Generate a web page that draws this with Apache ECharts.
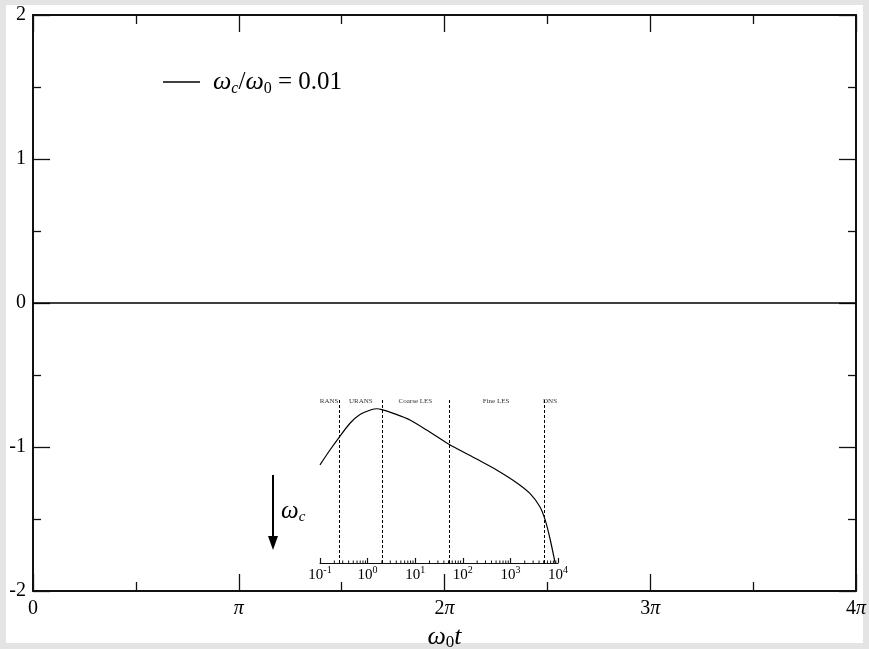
<!DOCTYPE html>
<html><head><meta charset="utf-8">
<script src="https://cdn.jsdelivr.net/npm/echarts@6/dist/echarts.min.js"></script>
<style>
html,body{margin:0;padding:0;background:#e4e4e4;overflow:hidden;}
#page{position:absolute;left:6px;top:5px;width:857px;height:638px;background:#fff;}
#chart{position:absolute;left:0;top:0;width:869px;height:649px;}
</style></head><body>
<div id="page"></div><div id="chart"></div>
<script>
// ---- main plot data ----
const mainX = [0, 1.5708, 3.1416, 4.7124, 6.2832, 7.854, 9.4248, 10.9956, 12.5664];
const mainY = [0, 0, 0, 0, 0, 0, 0, 0, 0];
const seriesName = 'ωc/ω0 = 0.01';
const xTickLabels = ['0', 'π', '2π', '3π', '4π'];
const yTickLabels = ['-2', '-1', '0', '1', '2'];

// ---- inset (spectrum) data ----
const insetX = [0.1, 0.162, 0.257, 0.427, 0.692, 1.23, 1.55, 2.0, 3.47, 7.76, 17.4, 50.1, 195, 513, 1349, 2570, 4169, 5370, 6761, 8710];
const insetY = [0.595, 0.685, 0.765, 0.847, 0.90, 0.93, 0.935, 0.93, 0.907, 0.867, 0.806, 0.721, 0.630, 0.564, 0.487, 0.422, 0.341, 0.261, 0.15, 0.0];
const insetBounds = [0.25, 2.0, 51, 5100];
const regionNames = ['RANS', 'URANS', 'Coarse LES', 'Fine LES', 'DNS'];
const regionCenters = [0.155, 0.72, 10.1, 500, 6800];
const regionLabelLevel = 0.983;
const insetMultipliers = [2, 3, 4, 5, 6, 7, 8, 9];
const insetDecadeBases = [0.1, 1, 10, 100, 1000];

const serif = 'Liberation Serif';
const ink = '#111';

const minorVals = [];
insetDecadeBases.forEach(b => insetMultipliers.forEach(m => minorVals.push([m * b, 0])));

function xLabel(v) {
  const n = Math.round(v / Math.PI);
  const s = xTickLabels[n];
  if (s === undefined) return '';
  return s.replace('π', '{p|π}');
}
function yLabel(v) {
  const n = Math.round(v) + 2;
  return yTickLabels[n] !== undefined ? yTickLabels[n] : '';
}

const mainAxisBase = {
  axisLine: {show: true, onZero: false, lineStyle: {color: ink, width: 2}},
  axisTick: {show: true, inside: true, length: 17, lineStyle: {color: ink, width: 1.3}},
  minorTick: {show: true, splitNumber: 2, length: 8, lineStyle: {color: ink, width: 1.3}},
  splitLine: {show: false},
  minorSplitLine: {show: false}
};

const chart = echarts.init(document.getElementById('chart'), null, {renderer: 'canvas'});
const option = {
  animation: false,
  backgroundColor: 'transparent',
  textStyle: {fontFamily: serif, color: '#000'},
  grid: [
    {left: 33, right: 13, top: 15, bottom: 58, outerBoundsMode: 'none'},
    {left: 320, width: 238, top: 398, height: 165, outerBoundsMode: 'none'}
  ],
  legend: {
    show: true, data: [seriesName], left: 163, top: 69, padding: 0,
    icon: 'rect', itemWidth: 37, itemHeight: 1.5, itemGap: 0,
    selectedMode: false,
    formatter: () => '{w|ω}{s|c}{n|/}{w|ω}{z|0}{n| = 0.01}',
    textStyle: {
      color: '#000', fontFamily: serif, fontSize: 25, padding: [0, 0, 0, 8],
      rich: {
        w: {fontFamily: serif, fontStyle: 'italic', fontSize: 26, lineHeight: 30, color: '#000'},
        n: {fontFamily: serif, fontSize: 25, lineHeight: 30, color: '#000'},
        s: {fontFamily: serif, fontStyle: 'italic', fontSize: 16, lineHeight: 16, verticalAlign: 'bottom', color: '#000'},
        z: {fontFamily: serif, fontSize: 16, lineHeight: 16, verticalAlign: 'bottom', color: '#000'}
      }
    }
  },
  xAxis: [
    Object.assign({}, mainAxisBase, {
      gridIndex: 0, type: 'value', min: 0, max: 4 * Math.PI, interval: Math.PI, position: 'bottom',
      axisLabel: {show: true, margin: 8, fontSize: 20, color: '#000', fontFamily: serif, formatter: xLabel,
        rich: {p: {fontStyle: 'italic', fontSize: 20, fontFamily: serif, color: '#000'}}},
      minorTick: {show: true, splitNumber: 2, length: 9, lineStyle: {color: ink, width: 1.3}},
      name: '{w|ω}{s|0}{w|t}', nameLocation: 'middle', nameGap: 29,
      nameTextStyle: {
        rich: {
          w: {fontFamily: serif, fontStyle: 'italic', fontSize: 26, lineHeight: 28, color: '#000'},
          s: {fontFamily: serif, fontSize: 17, lineHeight: 17, verticalAlign: 'bottom', color: '#000'}
        }
      }
    }),
    Object.assign({}, mainAxisBase, {
      gridIndex: 0, type: 'value', min: 0, max: 4 * Math.PI, interval: Math.PI, position: 'top',
      axisLabel: {show: false},
      minorTick: {show: true, splitNumber: 2, length: 9, lineStyle: {color: ink, width: 1.3}}
    }),
    {
      gridIndex: 1, type: 'log', logBase: 10, min: 0.1, max: 10000, splitNumber: 5, position: 'bottom',
      axisLine: {show: true, onZero: false, lineStyle: {color: ink, width: 1.2}},
      axisTick: {show: true, inside: true, length: 5, lineStyle: {color: ink, width: 1.2}},
      splitLine: {show: false},
      axisLabel: {
        show: true, margin: 2, color: '#000', fontFamily: serif, fontSize: 15,
        formatter: v => '{b|10}{s|' + Math.round(Math.log10(v)) + '}',
        rich: {
          b: {fontFamily: serif, fontSize: 15, lineHeight: 20, color: '#000'},
          s: {fontFamily: serif, fontSize: 10, lineHeight: 8, verticalAlign: 'top', color: '#000'}
        }
      }
    }
  ],
  yAxis: [
    Object.assign({}, mainAxisBase, {
      gridIndex: 0, type: 'value', min: -2, max: 2, interval: 1, position: 'left',
      axisLabel: {show: true, margin: 7, fontSize: 20, color: '#000', fontFamily: serif, formatter: yLabel}
    }),
    Object.assign({}, mainAxisBase, {
      gridIndex: 0, type: 'value', min: -2, max: 2, interval: 1, position: 'right',
      axisLabel: {show: false}
    }),
    {gridIndex: 1, type: 'value', min: 0, max: 1, show: false}
  ],
  series: [
    {
      name: seriesName, type: 'line', xAxisIndex: 0, yAxisIndex: 0,
      data: mainX.map((x, i) => [x, mainY[i]]),
      symbol: 'none', showSymbol: false,
      lineStyle: {color: '#000', width: 1.5}, itemStyle: {color: '#000'}
    },
    {
      name: 'spectrum', type: 'line', xAxisIndex: 2, yAxisIndex: 2,
      data: insetX.map((x, i) => [x, insetY[i]]),
      symbol: 'none', showSymbol: false, smooth: 0.25, clip: false,
      lineStyle: {color: '#000', width: 1.2}, itemStyle: {color: '#000'},
      markLine: {
        silent: true, symbol: 'none', label: {show: false},
        lineStyle: {color: '#000', width: 1, type: [3, 2]},
        data: insetBounds.map(b => ({xAxis: b}))
      }
    },
    {
      name: 'minor', type: 'custom', xAxisIndex: 2, yAxisIndex: 2, silent: true,
      data: minorVals,
      renderItem: (params, api) => {
        const p = api.coord([api.value(0), 0]);
        return {type: 'line', shape: {x1: p[0], y1: p[1], x2: p[0], y2: p[1] - 2.5},
          style: {stroke: ink, lineWidth: 1}};
      }
    },
    {
      name: 'regions', type: 'custom', xAxisIndex: 2, yAxisIndex: 2, silent: true,
      data: regionCenters.map((c, i) => [c, regionLabelLevel, i]),
      renderItem: (params, api) => {
        const p = api.coord([api.value(0), api.value(1)]);
        return {type: 'text', x: p[0], y: p[1],
          style: {text: regionNames[api.value(2)], fill: '#333', font: '7px "Liberation Serif"',
            align: 'center', verticalAlign: 'middle'}};
      }
    }
  ],
  graphic: [
    {type: 'line', shape: {x1: 273, y1: 475, x2: 273, y2: 540}, style: {stroke: '#000', lineWidth: 2}},
    {type: 'polygon', shape: {points: [[268, 536], [278, 536], [273, 550]]}, style: {fill: '#000'}},
    {type: 'text', x: 281, y: 497,
      style: {rich: {
        w: {fontFamily: serif, fontStyle: 'italic', fontSize: 25, lineHeight: 28, fill: '#000'},
        s: {fontFamily: serif, fontStyle: 'italic', fontSize: 15, lineHeight: 15, verticalAlign: 'bottom', fill: '#000'}
      }, text: '{w|ω}{s|c}'}}
  ]
};
chart.setOption(option);
</script>
</body></html>
